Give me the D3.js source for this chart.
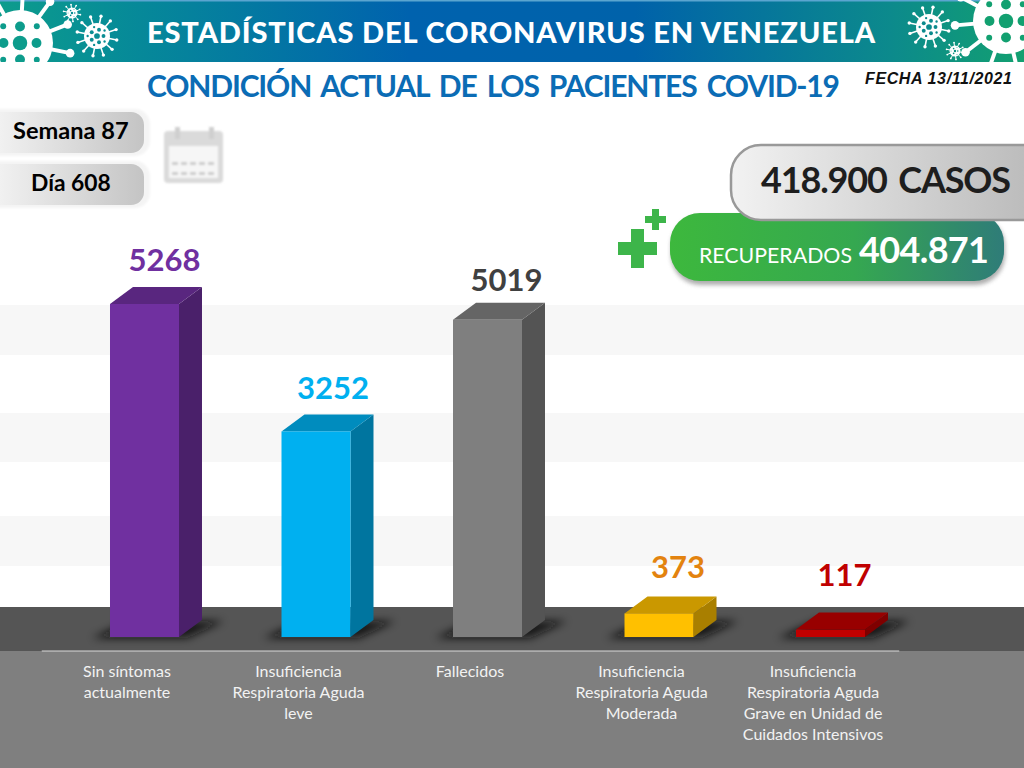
<!DOCTYPE html>
<html>
<head>
<meta charset="utf-8">
<script src="https://cdnjs.cloudflare.com/ajax/libs/d3/7.8.5/d3.min.js"></script>
<style>
    html, body { margin: 0; padding: 0; background: #fff; }
    svg { display: block; font-family: Lato, sans-serif; }
</style>
</head>
<body>
<svg id="chart" width="1024" height="768"></svg>
<script>
var categories = ["Sin síntomas actualmente", "Insuficiencia Respiratoria Aguda leve", "Fallecidos",
    "Insuficiencia Respiratoria Aguda Moderada", "Insuficiencia Respiratoria Aguda Grave en Unidad de Cuidados Intensivos"];
var values = [5268, 3252, 5019, 373, 117];
var barColors = ["#7030A0", "#00B0F0", "#7F7F7F", "#FFC000", "#C00000"];
var labelColors = ["#7030A0", "#00B0F0", "#404040", "#E3830F", "#C00000"];
// the value labels are not placed evenly in the original
var labelShiftX = [20, 17, 19, 19, 14];
var labelShiftY = [-33, -32, -29, -35, -44];

var svg = d3.select("#chart");
var defs = svg.append("defs");

function gradient(id, stops) {
    var g = defs.append("linearGradient").attr("id", id);
    stops.forEach(function (s) {
        g.append("stop").attr("offset", s[0]).attr("stop-color", s[1]);
    });
}
gradient("headerFill", [[0, "#0D9C8C"], [0.1, "#078E96"], [0.4, "#0062AE"], [0.62, "#0062AA"], [0.87, "#0C8A8C"], [1, "#12A070"]]);
gradient("pillFill", [[0, "#FAFAFA"], [1, "#C4C4C4"]]);
gradient("casosFill", [[0, "#F2F2F2"], [1, "#B4B4B4"]]);
gradient("greenFill", [[0, "#3DB83D"], [0.55, "#35A850"], [1, "#2F7C78"]]);

defs.append("filter").attr("id", "blur2").attr("x", "-30%").attr("y", "-30%").attr("width", "160%").attr("height", "160%")
    .append("feGaussianBlur").attr("stdDeviation", 2);
defs.append("filter").attr("id", "blur1").attr("x", "-30%").attr("y", "-30%").attr("width", "160%").attr("height", "160%")
    .append("feGaussianBlur").attr("stdDeviation", 1);
defs.append("filter").attr("id", "blur4").attr("x", "-30%").attr("y", "-60%").attr("width", "160%").attr("height", "220%")
    .append("feGaussianBlur").attr("stdDeviation", 4);
defs.append("clipPath").attr("id", "headerClip")
    .append("rect").attr("width", 1024).attr("height", 62);

// background stripes and floor
[[305, 50], [413, 49], [516, 50]].forEach(function (s) {
    svg.append("rect").attr("x", 0).attr("y", s[0]).attr("width", 1024).attr("height", s[1]).attr("fill", "#F7F7F7");
});
svg.append("rect").attr("x", 0).attr("y", 607).attr("width", 1024).attr("height", 44).attr("fill", "#555555");
svg.append("rect").attr("x", 0).attr("y", 651).attr("width", 1024).attr("height", 117).attr("fill", "#7F7F7F");

// header
svg.append("rect").attr("width", 1024).attr("height", 62).attr("fill", "url(#headerFill)");
svg.append("rect").attr("width", 1024).attr("height", 1.5).attr("fill", "#5AA5D0");

function drawVirus(parent, cx, cy, r, spikes, dotColor, dots) {
    var g = parent.append("g").attr("transform", "translate(" + cx + "," + cy + ")");
    d3.range(spikes).forEach(function (i) {
        var a = i / spikes * 2 * Math.PI + 0.2;
        var len = r * 1.55;
        g.append("line")
            .attr("x2", Math.cos(a) * len).attr("y2", Math.sin(a) * len)
            .attr("stroke", "#fff").attr("stroke-width", Math.max(1, r * 0.12));
        g.append("circle")
            .attr("cx", Math.cos(a) * len).attr("cy", Math.sin(a) * len)
            .attr("r", Math.max(0.9, r * 0.13)).attr("fill", "#fff");
    });
    g.append("circle").attr("r", r).attr("fill", "#fff");
    g.append("circle").attr("r", r * 0.22).attr("fill", dotColor);
    d3.range(dots).forEach(function (i) {
        var a = i / dots * 2 * Math.PI;
        var d = r * (i % 2 ? 0.72 : 0.5);
        g.append("circle")
            .attr("cx", Math.cos(a) * d).attr("cy", Math.sin(a) * d)
            .attr("r", r * (i % 2 ? 0.09 : 0.15)).attr("fill", dotColor);
    });
}
var virusLayer = svg.append("g").attr("clip-path", "url(#headerClip)");
drawVirus(virusLayer, 20, 43, 33, 11, "#0D9C8C", 8);
drawVirus(virusLayer, 97, 36, 13, 12, "#0B8E94", 10);
drawVirus(virusLayer, 72, 13, 5.5, 10, "#0B8E94", 6);
drawVirus(virusLayer, 929, 27, 13, 12, "#0B8A8C", 10);
drawVirus(virusLayer, 955, 51, 5.5, 10, "#0C9080", 6);
drawVirus(virusLayer, 1006, 21, 33, 11, "#12A070", 8);

svg.append("text").attr("x", 147).attr("y", 43).attr("textLength", 728).attr("lengthAdjust", "spacing")
    .attr("font-size", 29).attr("font-weight", 900).attr("fill", "#fff")
    .text("ESTADÍSTICAS DEL CORONAVIRUS EN VENEZUELA");
svg.append("text").attr("x", 147).attr("y", 97).attr("textLength", 693).attr("lengthAdjust", "spacing")
    .attr("font-size", 30).attr("font-weight", 700).attr("word-spacing", 4).attr("fill", "#0B6CB5")
    .text("CONDICIÓN ACTUAL DE LOS PACIENTES COVID-19");
svg.append("text").attr("x", 865).attr("y", 84).attr("textLength", 147).attr("lengthAdjust", "spacing")
    .attr("font-family", "Liberation Sans").attr("font-style", "italic").attr("font-weight", 700)
    .attr("font-size", 16).attr("fill", "#111")
    .text("FECHA 13/11/2021");

// week and day pills
function drawPill(y, h, label, tx, size) {
    svg.append("rect").attr("x", -30).attr("y", y - 3).attr("width", 180).attr("height", h + 6).attr("rx", 15)
        .attr("fill", "#F4F4F4").attr("filter", "url(#blur1)");
    svg.append("rect").attr("x", -30).attr("y", y).attr("width", 174).attr("height", h).attr("rx", 13)
        .attr("fill", "url(#pillFill)");
    svg.append("text").attr("x", tx).attr("y", y + 27).attr("font-size", size).attr("font-weight", 700)
        .attr("fill", "#000").text(label);
}
drawPill(112, 41, "Semana 87", 13, 23.6);
drawPill(164, 41, "Día 608", 31, 22.8);

// calendar icon
var cal = svg.append("g").attr("filter", "url(#blur1)");
cal.append("rect").attr("x", 164).attr("y", 131).attr("width", 59).attr("height", 52).attr("rx", 4).attr("fill", "#DADADA");
cal.append("rect").attr("x", 169).attr("y", 146).attr("width", 49).attr("height", 32).attr("fill", "#F6F6F6");
[175, 209].forEach(function (x) {
    cal.append("rect").attr("x", x).attr("y", 127).attr("width", 5).attr("height", 12).attr("fill", "#CFCFCF");
});
[162, 172].forEach(function (y) {
    d3.range(5).forEach(function (i) {
        cal.append("rect").attr("x", 172 + i * 9).attr("y", y).attr("width", 6).attr("height", 3).attr("fill", "#CCCCCC");
    });
});

// totals
svg.append("rect").attr("x", 670).attr("y", 213).attr("width", 334).attr("height", 69).attr("rx", 30)
    .attr("fill", "#777").attr("opacity", 0.6).attr("transform", "translate(1,3)").attr("filter", "url(#blur2)");
svg.append("rect").attr("x", 670).attr("y", 213).attr("width", 334).attr("height", 68).attr("rx", 30)
    .attr("fill", "url(#greenFill)");
svg.append("rect").attr("x", 731).attr("y", 145).attr("width", 340).attr("height", 75).attr("rx", 30)
    .attr("fill", "url(#casosFill)").attr("stroke", "#999").attr("stroke-width", 2.5);
svg.append("text").attr("x", 761).attr("y", 193).attr("textLength", 250).attr("lengthAdjust", "spacing")
    .attr("font-size", 36).attr("font-weight", 700).attr("word-spacing", 4).attr("fill", "#1E1E1E").text("418.900 CASOS");
svg.append("text").attr("x", 699).attr("y", 263).attr("textLength", 153).attr("lengthAdjust", "spacingAndGlyphs")
    .attr("font-size", 22).attr("fill", "#fff").text("RECUPERADOS");
svg.append("text").attr("x", 859).attr("y", 263).attr("textLength", 130).attr("lengthAdjust", "spacing")
    .attr("font-size", 36).attr("font-weight", 700).attr("fill", "#fff").text("404.871");

function drawPlus(cx, cy, size, arm) {
    svg.append("rect").attr("x", cx - size / 2).attr("y", cy - arm / 2).attr("width", size).attr("height", arm).attr("fill", "#3DB54A");
    svg.append("rect").attr("x", cx - arm / 2).attr("y", cy - size / 2).attr("width", arm).attr("height", size).attr("fill", "#3DB54A");
}
drawPlus(637.5, 248.5, 39, 13);
drawPlus(655.5, 219.5, 21, 7);

// bars
var x = d3.scaleBand()
    .domain(categories)
    .range([58.75, 916.25])
    .paddingInner(0.5977)
    .paddingOuter(0.2988);
var y = d3.scaleLinear().domain([0, 5268]).range([637, 304]);

var depthX = 23, depthY = 17;
var data = categories.map(function (c, i) {
    return { name: c, value: values[i], color: barColors[i], labelColor: labelColors[i], sx: labelShiftX[i], sy: labelShiftY[i] };
});
var base = y(0);

var shadow = svg.append("g").selectAll("path")
    .data(data)
    .enter().append("path")
    .attr("filter", "url(#blur4)")
    .attr("fill", "#111")
    .attr("opacity", 0.85)
    .attr("d", function (d) {
        var l = x(d.name);
        var r = l + x.bandwidth();
        return "M" + (l - 18) + "," + (base + 1) + "L" + (r + 8) + "," + (base + 1) +
            "L" + (r + depthX + 22) + "," + (base - depthY + 1) + "L" + (l + 20) + "," + (base - depthY + 1) + "Z";
    });

var bars = svg.append("g").selectAll("g")
    .data(data)
    .enter().append("g")
    .attr("class", "bar");

bars.append("path")
    .attr("fill", function (d) { return d3.rgb(d.color).darker(1.15); })
    .attr("d", function (d) {
        var r = x(d.name) + x.bandwidth();
        return "M" + r + "," + y(d.value) + "L" + (r + depthX) + "," + (y(d.value) - depthY) +
            "L" + (r + depthX) + "," + (base - depthY) + "L" + r + "," + base + "Z";
    });
bars.append("path")
    .attr("fill", function (d) { return d3.rgb(d.color).darker(0.65); })
    .attr("d", function (d) {
        var l = x(d.name);
        var r = l + x.bandwidth();
        return "M" + l + "," + y(d.value) + "L" + (l + depthX) + "," + (y(d.value) - depthY) +
            "L" + (r + depthX) + "," + (y(d.value) - depthY) + "L" + r + "," + y(d.value) + "Z";
    });
bars.append("rect")
    .attr("x", function (d) { return x(d.name); })
    .attr("y", function (d) { return y(d.value); })
    .attr("width", x.bandwidth())
    .attr("height", function (d) { return base - y(d.value); })
    .attr("fill", function (d) { return d.color; });

bars.append("text")
    .attr("text-anchor", "middle")
    .attr("x", function (d) { return x(d.name) + x.bandwidth() / 2 + d.sx; })
    .attr("y", function (d) { return y(d.value) + d.sy; })
    .attr("font-size", 31)
    .attr("font-weight", 700)
    .attr("fill", function (d) { return d.labelColor; })
    .text(function (d) { return d.value; });

// axis sits on the front of the floor, a bit left of the bar fronts
var axis = svg.append("g")
    .attr("class", "axis")
    .attr("transform", "translate(-17.5,650.5)")
    .call(d3.axisBottom(x).tickSize(0).tickPadding(15));

axis.select(".domain").attr("stroke", "#D9D9D9").attr("stroke-width", 1.2);
axis.selectAll(".tick text")
    .attr("font-family", "Lato, sans-serif")
    .attr("font-size", 16)
    .attr("fill", "#F2F2F2")
    .call(wrap, 146);

function wrap(selection, width) {
    selection.each(function () {
        var text = d3.select(this);
        var words = text.text().split(" ");
        var py = text.attr("y");
        var lineNo = 0;
        var line = [];
        var tspan = text.text(null).append("tspan").attr("x", 0).attr("y", py).attr("dy", "0.71em");
        words.forEach(function (w) {
            line.push(w);
            tspan.text(line.join(" "));
            if (tspan.node().getComputedTextLength() > width && line.length > 1) {
                line.pop();
                tspan.text(line.join(" "));
                line = [w];
                lineNo++;
                tspan = text.append("tspan").attr("x", 0).attr("y", py)
                    .attr("dy", (0.71 + lineNo * 1.31) + "em").text(w);
            }
        });
    });
}
</script>
</body>
</html>
